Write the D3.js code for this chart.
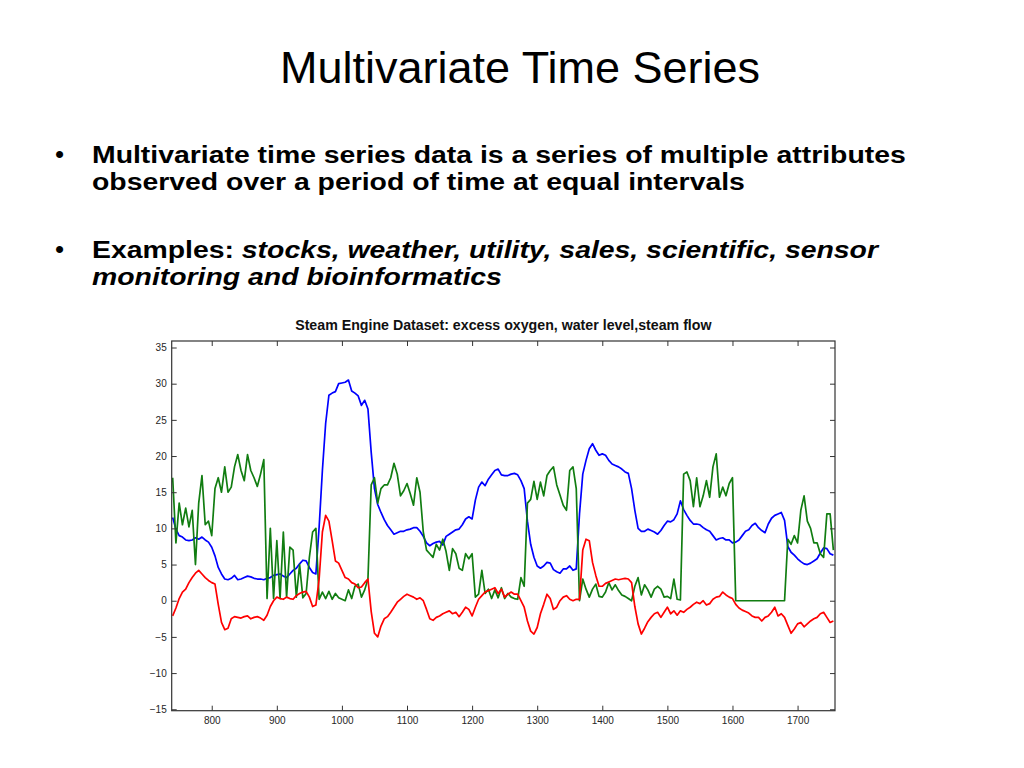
<!DOCTYPE html>
<html lang="en">
<head>
<meta charset="utf-8">
<title>Multivariate Time Series</title>
<script src="https://d3js.org/d3.v7.min.js"></script>
<style>
  body { margin: 0; background: #fff; }
  text { font-family: "Liberation Sans", Arial, Helvetica, sans-serif; }
  .tick text { font-size: 10px; fill: #262626; }
  .tick line { stroke: #333; }
</style>
</head>
<body>
<script>
// sample times of the steam engine recording (one sample every 5 time units)
var sampleTimes = d3.range(740, 1760, 5);

// excess oxygen (blue)
var excessOxygen = [
  11.5, 9.9, 9.0, 8.8, 8.4, 8.3, 8.4, 8.7, 8.5, 8.8,
  8.4, 8.1, 7.4, 6.2, 4.6, 3.7, 3.0, 2.9, 3.1, 3.5,
  2.9, 3.0, 3.2, 3.4, 3.3, 3.1, 3.0, 3.0, 2.9, 3.1,
  3.2, 3.5, 3.6, 3.7, 3.4, 3.2, 3.7, 4.2, 4.5, 5.1,
  5.6, 5.5, 4.6, 3.9, 3.7, 10.2, 18.0, 24.5, 28.4, 28.7,
  28.9, 30.0, 30.1, 30.2, 30.5, 29.0, 28.7, 28.3, 27.0, 27.7,
  26.5, 20.5, 15.5, 13.3, 12.2, 11.2, 10.4, 9.8, 9.2, 9.4,
  9.6, 9.6, 9.8, 9.9, 10.1, 10.1, 9.6, 8.9, 8.0, 7.6,
  7.9, 8.1, 8.2, 7.7, 8.9, 9.2, 9.5, 9.8, 9.9, 10.5,
  11.3, 11.6, 11.3, 13.9, 15.7, 16.4, 15.9, 16.8, 17.4, 18.0,
  18.2, 17.4, 17.3, 17.3, 17.5, 17.6, 17.4, 16.6, 15.5, 11.0,
  7.8, 6.0, 4.8, 4.5, 4.8, 5.3, 5.2, 4.3, 4.0, 3.8,
  4.4, 4.4, 4.8, 4.2, 4.4, 12.0, 17.5, 19.4, 21.0, 21.7,
  20.8, 20.1, 20.3, 20.1, 19.4, 18.9, 18.7, 18.5, 18.2, 17.8,
  17.6, 15.5, 12.5, 10.0, 9.6, 9.6, 9.9, 9.7, 9.5, 9.2,
  9.7, 10.4, 11.0, 10.9, 11.2, 12.0, 13.8, 12.6, 11.8, 11.1,
  10.6, 10.6, 10.5, 10.1, 9.8, 9.6, 9.0, 8.4, 8.6, 8.7,
  8.4, 8.4, 8.0, 8.1, 8.4, 9.0, 9.6, 9.8, 10.4, 10.7,
  10.1, 9.7, 9.4, 10.6, 11.4, 11.8, 12.0, 12.2, 11.1, 7.5,
  6.7, 6.3, 5.8, 5.4, 5.1, 5.0, 5.2, 5.5, 5.8, 6.6,
  7.3, 7.2, 6.5, 6.3
];

// water level (green)
var waterLevel = [
  17.0, 8.0, 13.5, 10.5, 12.8, 10.2, 12.5, 5.0, 13.5, 17.3,
  10.5, 11.0, 9.0, 15.5, 17.0, 15.0, 18.5, 15.0, 15.7, 18.5,
  20.2, 18.0, 16.6, 20.2, 18.0, 17.0, 15.8, 17.5, 19.5, 0.3,
  10.0, 0.3, 8.3, 0.3, 9.5, 0.5, 7.4, 7.0, 0.5, 5.0,
  0.4, 1.0, 6.0, 9.5, 10.0, 0.2, 1.2, 0.3, 1.3, 0.2,
  1.0, 0.4, 0.2, 0.0, 1.5, 0.3, 2.0, 2.3, 0.5, 1.5,
  3.0, 16.0, 17.0, 13.5, 15.5, 16.0, 16.0, 17.0, 19.0, 17.5,
  14.5, 15.2, 16.2, 14.8, 13.2, 17.0, 15.0, 9.5, 7.0, 6.5,
  6.0, 7.8, 7.0, 8.5, 6.8, 4.2, 7.2, 6.5, 4.5, 4.2,
  6.5, 5.8, 6.5, 0.5, 0.9, 4.2, 1.0, 1.6, 0.3, 1.5,
  0.4, 1.8, 0.3, 1.0, 0.5, 0.3, 0.2, 3.2, 2.0, 13.5,
  14.0, 16.5, 14.0, 16.4, 14.5, 17.3, 18.0, 18.5, 16.0, 14.6,
  13.2, 12.5, 18.0, 18.5, 15.5, 0.0, 3.0, 1.6, 0.5, 1.6,
  2.3, 0.6, 0.5, 1.2, 2.5, 1.5, 2.2, 1.4, 0.8, 0.6,
  0.3, 0.0, 2.0, 3.2, 0.8, 2.2, 1.5, 0.5, 1.6, 2.0,
  1.6, 0.5, 0.6, 0.3, 3.0, 0.2, 0.1, 17.5, 17.8, 16.6,
  13.0, 17.0, 13.0, 14.5, 16.6, 14.3, 18.5, 20.3, 14.3, 15.7,
  14.5, 16.2, 17.0, 0.0, 0.0, 0.0, 0.0, 0.0, 0.0, 0.0,
  0.0, 0.0, 0.0, 0.0, 0.0, 0.0, 0.0, 0.0, 0.0, 8.5,
  7.8, 9.0, 8.0, 12.5, 14.5, 11.0, 10.0, 8.0, 8.0, 6.5,
  6.0, 12.0, 12.0, 7.0
];

// steam flow (red)
var steamFlow = [
  -2.1, -1.0, 0.3, 1.2, 1.6, 2.5, 3.2, 3.8, 4.2, 3.7,
  3.2, 2.8, 2.5, 2.3, -0.5, -3.0, -4.0, -3.8, -2.5, -2.2,
  -2.3, -2.4, -2.2, -2.1, -2.5, -2.3, -2.2, -2.4, -2.7, -2.0,
  -0.8, 0.0, 0.5, 0.3, 0.2, 0.5, 0.3, 0.2, 0.7, 1.0,
  1.2, 1.3, 0.5, -0.8, -0.6, 3.0, 9.5, 11.8, 11.0, 8.3,
  5.5, 5.2, 4.2, 3.2, 3.0, 2.5, 2.3, 1.8, 1.9, 2.5,
  3.0, -1.5, -4.5, -5.0, -3.5, -2.5, -2.2, -1.6, -0.9, -0.2,
  0.2, 0.6, 0.9, 0.7, 0.5, 0.2, 0.4, 0.0, -1.2, -2.5,
  -2.7, -2.3, -2.1, -1.8, -1.6, -1.4, -1.8, -1.6, -2.2, -1.6,
  -0.9, -1.2, -2.1, -0.9, 0.2, 0.7, 1.2, 1.4, 1.6, 1.8,
  1.0, 1.6, 0.5, 0.9, 1.2, 0.9, 0.9, 0.0, -0.9, -2.8,
  -4.2, -4.6, -3.7, -1.8, -0.5, 0.9, 0.3, -1.2, -0.9, 0.0,
  0.5, 0.7, 0.2, 0.0, 0.2, 0.2, 7.0, 8.5, 8.3, 5.3,
  3.5, 2.0, 2.0, 2.4, 2.6, 2.8, 3.0, 2.9, 3.0, 3.1,
  3.0, 2.5, -0.8, -3.2, -4.6, -3.8, -2.9, -2.3, -1.8, -1.6,
  -2.3, -1.6, -0.9, -1.8, -1.4, -2.0, -1.4, -1.6, -1.2, -0.9,
  -0.5, -0.2, -0.4, 0.0, -0.6, -0.4, 0.2, 0.5, 0.6, 1.2,
  0.8, 0.5, 0.3, -0.5, -1.0, -1.3, -1.5, -1.7, -2.1, -2.3,
  -2.3, -2.8, -2.3, -2.1, -1.6, -0.9, -2.1, -1.8, -2.3, -3.4,
  -4.5, -3.9, -3.2, -3.0, -3.6, -3.2, -2.8, -2.5, -2.3, -1.8,
  -1.6, -2.3, -3.0, -2.8
];

var xTicks = [800, 900, 1000, 1100, 1200, 1300, 1400, 1500, 1600, 1700];
var yTicks = [-15, -10, -5, 0, 5, 10, 15, 20, 25, 30, 35];

var width = 1024, height = 768;
var svg = d3.select("body").append("svg")
    .attr("width", width).attr("height", height);

// slide title and bullets
svg.append("text")
    .attr("x", 520).attr("y", 83)
    .attr("text-anchor", "middle")
    .style("font-size", "45px")
    .text("Multivariate Time Series");

var bullets = [
  {y: 163, lines: [[{t: "Multivariate time series data is a series of multiple attributes", i: false}],
                   [{t: "observed over a period of time at equal intervals", i: false}]]},
  {y: 258, lines: [[{t: "Examples: ", i: false}, {t: "stocks, weather, utility, sales, scientific, sensor", i: true}],
                   [{t: "monitoring and bioinformatics", i: true}]]}
];

// the slide font is wider than Liberation Sans, so the text is stretched a bit
bullets.forEach(function(b) {
  svg.append("text").attr("x", 55).attr("y", b.y)
      .style("font-size", "26px").text("\u2022");
  b.lines.forEach(function(line, k) {
    var t = svg.append("text")
        .attr("transform", "translate(92," + (b.y + k * 27) + ") scale(1.145,1)")
        .style("font-size", "24.8px").style("font-weight", "bold");
    line.forEach(function(part) {
      t.append("tspan").style("font-style", part.i ? "italic" : "normal").text(part.t);
    });
  });
});

// plot area
var margin = {left: 171.7, right: 835, top: 341, bottom: 710.7};
var x = d3.scaleLinear().domain([738.5, 1757.5]).range([margin.left, margin.right]);
var y = d3.scaleLinear().domain([-15.2, 35.9]).range([margin.bottom, margin.top]);

svg.append("text")
    .attr("x", (margin.left + margin.right) / 2).attr("y", 330)
    .attr("text-anchor", "middle")
    .style("font-size", "14.2px").style("font-weight", "bold").style("fill", "#111")
    .text("Steam Engine Dataset: excess oxygen, water level,steam flow");

svg.append("clipPath").attr("id", "clip")
  .append("rect")
    .attr("x", margin.left).attr("y", margin.top)
    .attr("width", margin.right - margin.left).attr("height", margin.bottom - margin.top);

var line = d3.line()
    .x(function(d, i) { return x(sampleTimes[i]); })
    .y(function(d) { return y(d); });

var series = [
  {values: excessOxygen, color: "#0000ff"},
  {values: waterLevel, color: "#117d11"},
  {values: steamFlow, color: "#ff0000"}
];

svg.append("g").attr("clip-path", "url(#clip)")
  .selectAll("path").data(series).enter().append("path")
    .attr("d", function(s) { return line(s.values); })
    .attr("fill", "none")
    .attr("stroke", function(s) { return s.color; })
    .attr("stroke-width", 1.7)
    .attr("stroke-linejoin", "round");

// axes, ticks pointing inward on all four sides
var fmt = d3.format("d");
var ax = svg.append("g").attr("transform", "translate(0," + margin.bottom + ")")
    .call(d3.axisBottom(x).tickValues(xTicks).tickFormat(fmt).tickSizeInner(-5).tickSizeOuter(0).tickPadding(6));
var ay = svg.append("g").attr("transform", "translate(" + margin.left + ",0)")
    .call(d3.axisLeft(y).tickValues(yTicks).tickFormat(fmt).tickSizeInner(-5).tickSizeOuter(0).tickPadding(5));
var at = svg.append("g").attr("transform", "translate(0," + margin.top + ")")
    .call(d3.axisTop(x).tickValues(xTicks).tickSizeInner(-5).tickSizeOuter(0).tickFormat(""));
var ar = svg.append("g").attr("transform", "translate(" + margin.right + ",0)")
    .call(d3.axisRight(y).tickValues(yTicks).tickSizeInner(-5).tickSizeOuter(0).tickFormat(""));

[ax, ay, at, ar].forEach(function(g) {
  g.select(".domain").remove();
  g.selectAll(".tick text").style("font-family", "'Liberation Sans', Arial, sans-serif");
});

svg.append("rect")
    .attr("x", margin.left).attr("y", margin.top)
    .attr("width", margin.right - margin.left).attr("height", margin.bottom - margin.top)
    .attr("fill", "none").attr("stroke", "#333").attr("stroke-width", 1.2);
</script>
</body>
</html>
